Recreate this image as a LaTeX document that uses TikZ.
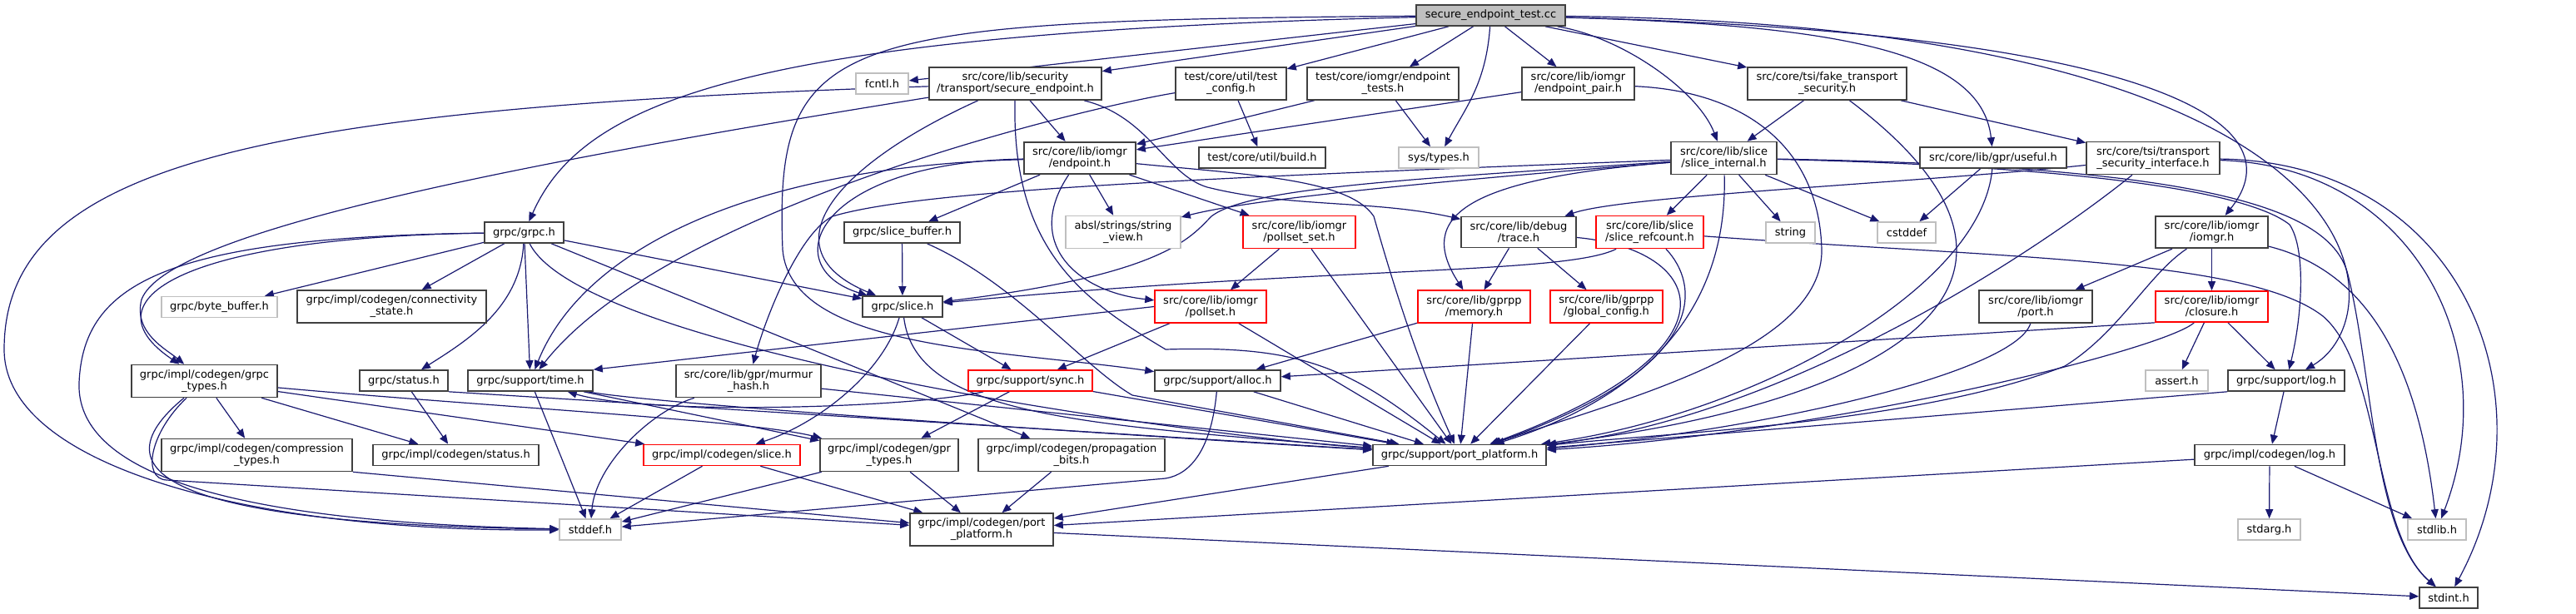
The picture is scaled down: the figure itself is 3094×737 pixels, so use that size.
\documentclass[tikz,border=0pt]{standalone}
\usepackage{fontspec}
\setmainfont{DejaVu Sans}
\usetikzlibrary{arrows.meta,backgrounds}
\definecolor{edgeblue}{HTML}{191970}
\definecolor{extgrey}{HTML}{BFBFBF}
\tikzset{
    hdr/.style={draw=black!75,line width=1.6pt,fill=white,align=center,inner xsep=4pt,inner ysep=6pt,minimum height=25pt,font=\fontsize{13}{14}\selectfont},
    exthdr/.style={hdr,draw=extgrey},
    cuthdr/.style={hdr,draw=red},
    roothdr/.style={hdr,fill=extgrey},
    dep/.style={edgeblue,line width=1.2pt,-{Triangle[length=11pt,width=9pt]}}
}
\begin{document}
\begin{tikzpicture}[x=1pt,y=-1pt]
\useasboundingbox (0,0) rectangle (3094,737);
\node[roothdr,minimum width=179pt] (root) at (1790.5,18.5) {secure\_endpoint\_test.cc};
\node[exthdr,minimum width=63pt] (fcntl) at (1059.5,100.5) {fcntl.h};
\node[hdr,minimum width=207pt] (secep) at (1219.5,100.5) {src/core/lib/security\\/transport/secure\_endpoint.h};
\node[hdr,minimum width=133pt] (testcfg) at (1478.5,100.5) {test/core/util/test\\\_config.h};
\node[hdr,minimum width=182pt] (eptests) at (1661,100.5) {test/core/iomgr/endpoint\\\_tests.h};
\node[hdr,minimum width=135pt] (eppair) at (1895.5,100.5) {src/core/lib/iomgr\\/endpoint\_pair.h};
\node[hdr,minimum width=191pt] (faketsi) at (2194.5,100.5) {src/core/tsi/fake\_transport\\\_security.h};
\node[hdr,minimum width=134pt] (endpoint) at (1297,190) {src/core/lib/iomgr\\/endpoint.h};
\node[hdr,minimum width=152pt] (build) at (1516,189.5) {test/core/util/build.h};
\node[exthdr,minimum width=96pt] (systypes) at (1728,189.5) {sys/types.h};
\node[hdr,minimum width=127pt] (sliceint) at (2070.5,190) {src/core/lib/slice\\/slice\_internal.h};
\node[hdr,minimum width=176pt] (useful) at (2394,189.5) {src/core/lib/gpr/useful.h};
\node[hdr,minimum width=160pt] (tsiif) at (2586,190) {src/core/tsi/transport\\\_security\_interface.h};
\node[hdr,minimum width=95pt] (grpc) at (629.5,279.5) {grpc/grpc.h};
\node[exthdr,minimum width=139pt] (bytebuf) at (263.5,369) {grpc/byte\_buffer.h};
\node[hdr,minimum width=227pt] (connstate) at (470.5,368.5) {grpc/impl/codegen/connectivity\\\_state.h};
\node[hdr,minimum width=139pt] (slicebuf) at (1083.5,279.5) {grpc/slice\_buffer.h};
\node[exthdr,minimum width=138pt] (strview) at (1349,279) {absl/strings/string\\\_view.h};
\node[cuthdr,minimum width=135pt] (pollsetset) at (1560.5,279) {src/core/lib/iomgr\\/pollset\_set.h};
\node[hdr,minimum width=138pt] (trace) at (1824,279) {src/core/lib/debug\\/trace.h};
\node[cuthdr,minimum width=129pt] (sliceref) at (1981.5,279) {src/core/lib/slice\\/slice\_refcount.h};
\node[exthdr,minimum width=59pt] (string) at (2150.5,279.5) {string};
\node[exthdr,minimum width=70pt] (cstddef) at (2290,279.5) {cstddef};
\node[hdr,minimum width=135pt] (iomgr) at (2656.5,279) {src/core/lib/iomgr\\/iomgr.h};
\node[hdr,minimum width=96pt] (slice) at (1084,368.5) {grpc/slice.h};
\node[cuthdr,minimum width=134pt] (pollset) at (1454,368.5) {src/core/lib/iomgr\\/pollset.h};
\node[cuthdr,minimum width=135pt] (memory) at (1770.5,368.5) {src/core/lib/gprpp\\/memory.h};
\node[cuthdr,minimum width=135pt] (globcfg) at (1929.5,368.5) {src/core/lib/gprpp\\/global\_config.h};
\node[hdr,minimum width=136pt] (port) at (2445,368.5) {src/core/lib/iomgr\\/port.h};
\node[cuthdr,minimum width=135pt] (closure) at (2656.5,368.5) {src/core/lib/iomgr\\/closure.h};
\node[hdr,minimum width=175pt] (grpctypes) at (245.5,458) {grpc/impl/codegen/grpc\\\_types.h};
\node[hdr,minimum width=106pt] (status) at (485,457.5) {grpc/status.h};
\node[hdr,minimum width=150pt] (time) at (637,457.5) {grpc/support/time.h};
\node[hdr,minimum width=174pt] (murmur) at (899,458) {src/core/lib/gpr/murmur\\\_hash.h};
\node[cuthdr,minimum width=149pt] (sync) at (1237.5,457.5) {grpc/support/sync.h};
\node[hdr,minimum width=151pt] (alloc) at (1462.5,457.5) {grpc/support/alloc.h};
\node[exthdr,minimum width=75pt] (assert) at (2614.5,457.5) {assert.h};
\node[hdr,minimum width=140pt] (log) at (2746,457.5) {grpc/support/log.h};
\node[hdr,minimum width=229pt] (compr) at (308.5,547) {grpc/impl/codegen/compression\\\_types.h};
\node[hdr,minimum width=199pt] (cgstatus) at (547.5,547) {grpc/impl/codegen/status.h};
\node[cuthdr,minimum width=188pt] (cgslice) at (867,547) {grpc/impl/codegen/slice.h};
\node[hdr,minimum width=166pt] (gprtypes) at (1068,547) {grpc/impl/codegen/gpr\\\_types.h};
\node[hdr,minimum width=224pt] (propbits) at (1287,547) {grpc/impl/codegen/propagation\\\_bits.h};
\node[hdr,minimum width=208pt] (portplat) at (1753,547) {grpc/support/port\_platform.h};
\node[hdr,minimum width=180pt] (cglog) at (2726,547) {grpc/impl/codegen/log.h};
\node[exthdr,minimum width=74pt] (stddef) at (709,636.5) {stddef.h};
\node[hdr,minimum width=172pt] (cgportplat) at (1179,636.5) {grpc/impl/codegen/port\\\_platform.h};
\node[exthdr,minimum width=75pt] (stdarg) at (2725.5,636.5) {stdarg.h};
\node[exthdr,minimum width=70pt] (stdlib) at (2927,636.5) {stdlib.h};
\node[hdr,minimum width=70pt] (stdint) at (2941,718.5) {stdint.h};
\begin{scope}[on background layer]
\draw[dep] (root) .. controls (900,40) and (700,120) .. (grpc);
\draw[dep] (root) .. controls (1000,25) and (930,40) .. (940,300) .. controls (950,420) and (1200,420) .. (alloc);
\draw[dep] (root) -- (fcntl);
\draw[dep] (root) -- (secep);
\draw[dep] (root) -- (testcfg);
\draw[dep] (root) -- (eptests);
\draw[dep] (root) .. controls (1785,100) and (1760,130) .. (systypes);
\draw[dep] (root) -- (eppair);
\draw[dep] (root) .. controls (1950,45) and (2040,110) .. (sliceint);
\draw[dep] (root) -- (faketsi);
\draw[dep] (root) .. controls (2200,30) and (2380,60) .. (useful);
\draw[dep] (root) .. controls (2600,40) and (2760,150) .. (iomgr);
\draw[dep] (root) .. controls (2880,30) and (2880,380) .. (log);
\draw[dep] (secep) .. controls (600,200) and (200,280) .. (170,360) .. controls (160,400) and (200,420) .. (grpctypes);
\draw[dep] (secep) .. controls (300,130) and (5,200) .. (5,420) .. controls (5,560) and (300,640) .. (stddef);
\draw[dep] (secep) .. controls (1000,200) and (920,300) .. (slice);
\draw[dep] (secep) -- (endpoint);
\draw[dep] (secep) .. controls (1380,140) and (1400,210) .. (1450,225) .. controls (1550,250) and (1650,240) .. (trace);
\draw[dep] (secep) .. controls (1215,300) and (1300,360) .. (1400,420) .. controls (1560,415) and (1620,440) .. (portplat);
\draw[dep] (grpc) -- (bytebuf);
\draw[dep] (grpc) -- (connstate);
\draw[dep] (grpc) .. controls (220,285) and (100,360) .. (grpctypes);
\draw[dep] (grpc) .. controls (200,285) and (100,340) .. (95,460) .. controls (90,600) and (400,630) .. (stddef);
\draw[dep] (grpc) .. controls (625,370) and (560,410) .. (status);
\draw[dep] (grpc) -- (time);
\draw[dep] (grpc) -- (slice);
\draw[dep] (grpc) -- (propbits);
\draw[dep] (grpc) .. controls (700,420) and (1400,520) .. (portplat);
\draw[dep] (grpctypes) -- (compr);
\draw[dep] (grpctypes) -- (cgstatus);
\draw[dep] (grpctypes) -- (cgslice);
\draw[dep] (grpctypes) .. controls (600,490) and (900,505) .. (gprtypes);
\draw[dep] (grpctypes) .. controls (110,570) and (210,630) .. (stddef);
\draw[dep] (grpctypes) .. controls (180,520) and (170,575) .. (200,577) -- (cgportplat);
\draw[dep] (compr.south east) -- (cgportplat);
\draw[dep] (status) -- (cgstatus);
\draw[dep] (status.south east) -- (portplat);
\draw[dep] (time) -- (stddef);
\draw[dep] (time) -- (gprtypes);
\draw[dep] (time) .. controls (780,485) and (1300,520) .. (portplat);
\draw[dep] (murmur) .. controls (780,495) and (715,560) .. (stddef);
\draw[dep] (murmur) -- (portplat);
\draw[dep] (sync) -- (gprtypes);
\draw[dep] (sync) .. controls (1100,490) and (780,500) .. (time);
\draw[dep] (sync) -- (portplat);
\draw[dep] (alloc) .. controls (1455,540) and (1430,570) .. (1400,575) -- (stddef);
\draw[dep] (alloc) -- (portplat);
\draw[dep] (gprtypes) -- (stddef);
\draw[dep] (gprtypes) -- (cgportplat);
\draw[dep] (propbits) -- (cgportplat);
\draw[dep] (cgslice) -- (stddef);
\draw[dep] (cgslice) -- (cgportplat);
\draw[dep] (portplat) -- (cgportplat);
\draw[dep] (cglog) -- (cgportplat);
\draw[dep] (cglog) -- (stdarg);
\draw[dep] (cglog) -- (stdlib);
\draw[dep] (cgportplat) -- (stdint);
\draw[dep] (log) -- (cglog);
\draw[dep] (log.south west) -- (portplat);
\draw[dep] (slicebuf) -- (slice);
\draw[dep] (slicebuf) .. controls (1220,340) and (1300,440) .. (1360,475) -- (portplat);
\draw[dep] (slice) .. controls (1060,450) and (980,510) .. (cgslice);
\draw[dep] (slice) -- (sync);
\draw[dep] (slice) .. controls (1100,500) and (1300,510) .. (portplat);
\draw[dep] (endpoint) -- (slicebuf);
\draw[dep] (endpoint) -- (strview);
\draw[dep] (endpoint) -- (pollsetset);
\draw[dep] (endpoint) .. controls (1230,290) and (1290,350) .. (pollset);
\draw[dep] (endpoint) .. controls (980,195) and (930,320) .. (slice);
\draw[dep] (endpoint) .. controls (900,200) and (700,300) .. (time);
\draw[dep] (endpoint) .. controls (1500,210) and (1620,215) .. (1650,260) .. controls (1670,330) and (1700,430) .. (portplat);
\draw[dep] (testcfg) .. controls (1300,130) and (800,250) .. (time);
\draw[dep] (testcfg) -- (build);
\draw[dep] (eptests) -- (endpoint);
\draw[dep] (eptests) -- (systypes);
\draw[dep] (eppair) -- (endpoint);
\draw[dep] (eppair) .. controls (2100,110) and (2185,180) .. (2188,300) .. controls (2190,420) and (1950,480) .. (portplat);
\draw[dep] (faketsi) -- (sliceint);
\draw[dep] (faketsi) -- (tsiif);
\draw[dep] (faketsi) .. controls (2500,330) and (2300,480) .. (portplat);
\draw[dep] (sliceint) .. controls (1700,220) and (1500,240) .. (strview);
\draw[dep] (sliceint) .. controls (1700,215) and (1500,225) .. (1455,260) .. controls (1430,285) and (1400,330) .. (slice);
\draw[dep] (sliceint) .. controls (1400,215) and (1100,230) .. (1000,260) .. controls (960,280) and (920,380) .. (murmur);
\draw[dep] (sliceint) -- (sliceref);
\draw[dep] (sliceint) .. controls (2075,350) and (2000,470) .. (portplat);
\draw[dep] (sliceint) -- (string);
\draw[dep] (sliceint) -- (cstddef);
\draw[dep] (sliceint) .. controls (1760,215) and (1700,260) .. (memory);
\draw[dep] (sliceint) .. controls (2500,200) and (2700,230) .. (2750,270) .. controls (2770,300) and (2765,380) .. (log);
\draw[dep] (sliceint) .. controls (2650,200) and (2800,250) .. (2820,330) .. controls (2850,450) and (2850,640) .. (stdint);
\draw[dep] (useful) -- (cstddef);
\draw[dep] (useful) .. controls (2380,350) and (2100,500) .. (portplat);
\draw[dep] (tsiif) .. controls (2300,220) and (1950,235) .. (trace);
\draw[dep] (tsiif) .. controls (2450,300) and (2150,500) .. (portplat);
\draw[dep] (tsiif) .. controls (2900,200) and (3010,420) .. (stdlib);
\draw[dep] (tsiif) .. controls (2960,195) and (3070,480) .. (stdint);
\draw[dep] (iomgr) -- (port);
\draw[dep] (iomgr) -- (closure);
\draw[dep] (iomgr) .. controls (2580,330) and (2545,400) .. (2480,440) .. controls (2300,510) and (2000,520) .. (portplat);
\draw[dep] (iomgr) .. controls (2820,320) and (2900,400) .. (stdlib);
\draw[dep] (port) .. controls (2420,450) and (2100,520) .. (portplat);
\draw[dep] (closure) -- (assert);
\draw[dep] (closure) -- (log);
\draw[dep] (closure) .. controls (2600,420) and (2200,520) .. (portplat);
\draw[dep] (closure.south west) -- (alloc);
\draw[dep] (pollsetset) -- (pollset);
\draw[dep] (pollsetset) -- (portplat);
\draw[dep] (trace) -- (memory);
\draw[dep] (trace) -- (globcfg);
\draw[dep] (trace) .. controls (2050,300) and (2100,420) .. (portplat);
\draw[dep] (sliceref) .. controls (1880,330) and (1600,320) .. (slice);
\draw[dep] (sliceref) .. controls (2040,340) and (2060,440) .. (portplat);
\draw[dep] (sliceref) .. controls (2400,310) and (2700,310) .. (2790,380) .. controls (2860,440) and (2850,640) .. (stdint);
\draw[dep] (memory) -- (portplat);
\draw[dep] (memory) -- (alloc);
\draw[dep] (globcfg) -- (portplat);
\draw[dep] (pollset.west) -- (time.north east);
\draw[dep] (pollset) -- (sync);
\draw[dep] (pollset) -- (portplat);
\end{scope}
\end{tikzpicture}
\end{document}
